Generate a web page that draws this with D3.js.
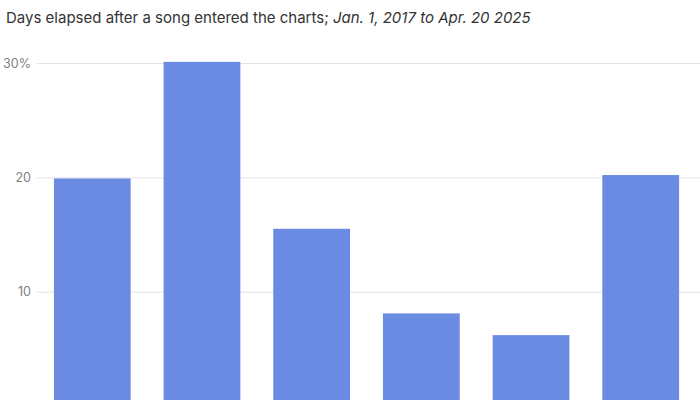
<!DOCTYPE html>
<html>
<head>
<meta charset="utf-8">
<script src="https://cdn.jsdelivr.net/npm/d3@7"></script>
<style>
  html, body { margin: 0; padding: 0; background: #fff; }
  svg { display: block; font-family: Inter, "Noto Sans", sans-serif; }
</style>
</head>
<body>
<svg id="chart" width="700" height="400"></svg>
<script>
const categories = ["0-30", "31-60", "61-90", "91-120", "121-150", "151+"];
const values = [19.9, 30.1, 15.5, 8.1, 6.2, 20.2];
const tickValues = [10, 20, 30];
const tickLabels = ["10", "20", "30%"];

const svg = d3.select("#chart");
const W = 700, H = 400;

const x = d3.scaleBand().domain(categories).range([21, 712]).paddingInner(0.3).paddingOuter(0.3);
const y = d3.scaleLinear().domain([0, 30]).range([406, 63]);

// Title
const title = svg.append("text")
  .attr("x", 6).attr("y", 23)
  .attr("font-size", 15)
  .attr("fill", "#333");
title.append("tspan").text("Days elapsed after a song entered the charts; ");
title.append("tspan").attr("font-style", "italic").text("Jan. 1, 2017 to Apr. 20 2025");

// Gridlines + labels via axis
const yAxis = d3.axisLeft(y)
  .tickValues(tickValues)
  .tickSize(-(W - 37))
  .tickPadding(6)
  .tickFormat((d, i) => tickLabels[i]);

const gAxis = svg.append("g").attr("transform", "translate(37,0)").call(yAxis);
gAxis.select(".domain").remove();
gAxis.selectAll(".tick line").attr("stroke", "#e3e3e3").attr("stroke-width", 1);
gAxis.selectAll(".tick text").attr("fill", "#808080").attr("font-size", 12.5)
  .attr("font-family", "Inter, 'Noto Sans', sans-serif");

// Bars
svg.append("g").selectAll("rect")
  .data(values)
  .join("rect")
  .attr("x", (d, i) => x(categories[i]))
  .attr("width", x.bandwidth())
  .attr("y", d => y(d))
  .attr("height", d => y(0) - y(d))
  .attr("fill", "#6b8ae1");
</script>
</body>
</html>
